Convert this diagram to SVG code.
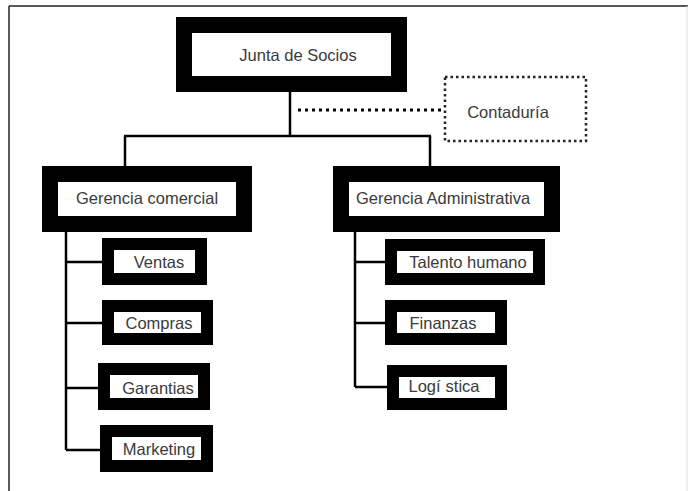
<svg xmlns="http://www.w3.org/2000/svg" width="688" height="491" viewBox="0 0 688 491">
<style>
.box{fill:#fff;stroke:#000;stroke-width:16}
.sub{fill:#fff;stroke:#000;stroke-width:12}
.lbl{font-family:"Liberation Sans",Arial,sans-serif;font-size:16.5px;fill:#3a3a3a;text-anchor:middle}
.ln{stroke:#000;stroke-width:2.5;fill:none}
.dot{stroke:#000;stroke-width:3;stroke-dasharray:3 4;fill:none}
</style>
<rect x="0" y="0" width="688" height="491" fill="#fff"/>
<g id="frame">
<line x1="9" y1="6" x2="688" y2="6" stroke="#222" stroke-width="1.5"/>
<line x1="9" y1="6" x2="9" y2="491" stroke="#222" stroke-width="1.5"/>
<line x1="687" y1="6" x2="687" y2="491" stroke="#ddd" stroke-width="1"/>
</g>
<g id="connectors">
<line class="ln" x1="290" y1="92" x2="290" y2="136"/>
<line class="ln" x1="124" y1="136" x2="431" y2="136"/>
<line class="ln" x1="125" y1="136" x2="125" y2="166"/>
<line class="ln" x1="430" y1="136" x2="430" y2="166"/>
<line class="dot" x1="298" y1="110" x2="445" y2="110"/>
<line class="ln" x1="66" y1="232" x2="66" y2="450"/>
<line class="ln" x1="66" y1="262" x2="102" y2="262"/>
<line class="ln" x1="66" y1="323" x2="102" y2="323"/>
<line class="ln" x1="66" y1="388" x2="98" y2="388"/>
<line class="ln" x1="66" y1="450" x2="100" y2="450"/>
<line class="ln" x1="355" y1="232" x2="355" y2="387"/>
<line class="ln" x1="355" y1="262" x2="385" y2="262"/>
<line class="ln" x1="355" y1="323" x2="385" y2="323"/>
<line class="ln" x1="355" y1="387" x2="387" y2="387"/>
</g>
<g id="junta">
<rect class="box" x="184" y="25" width="215" height="59"/>
<text class="lbl" x="298" y="61">Junta de Socios</text>
</g>
<g id="contaduria">
<rect x="445" y="77" width="141" height="64" fill="#fff" stroke="#222" stroke-width="2.5" stroke-dasharray="2.5 3"/>
<text class="lbl" x="508" y="118">Contaduría</text>
</g>
<g id="gerencia-comercial">
<rect class="box" x="50" y="174" width="194" height="50"/>
<text class="lbl" x="147" y="204">Gerencia comercial</text>
</g>
<g id="gerencia-administrativa">
<rect class="box" x="341" y="174" width="211" height="50"/>
<text class="lbl" x="443" y="204">Gerencia Administrativa</text>
</g>
<g id="ventas">
<rect class="sub" x="108" y="244" width="93" height="35"/>
<text class="lbl" x="159" y="268">Ventas</text>
</g>
<g id="compras">
<rect class="sub" x="108" y="306" width="99" height="33"/>
<text class="lbl" x="159" y="329">Compras</text>
</g>
<g id="garantias">
<rect class="sub" x="104" y="369" width="100" height="35"/>
<text class="lbl" x="158" y="394">Garantias</text>
</g>
<g id="marketing">
<rect class="sub" x="106" y="431" width="101" height="35"/>
<text class="lbl" x="159" y="455">Marketing</text>
</g>
<g id="talento-humano">
<rect class="sub" x="391" y="245" width="148" height="34"/>
<text class="lbl" x="468" y="268">Talento humano</text>
</g>
<g id="finanzas">
<rect class="sub" x="391" y="306" width="110" height="33"/>
<text class="lbl" x="443" y="329">Finanzas</text>
</g>
<g id="logistica">
<rect class="sub" x="393" y="371" width="108" height="33"/>
<text class="lbl" x="444" y="392">Logí<tspan dx="5">stica</tspan></text>
</g>
</svg>
